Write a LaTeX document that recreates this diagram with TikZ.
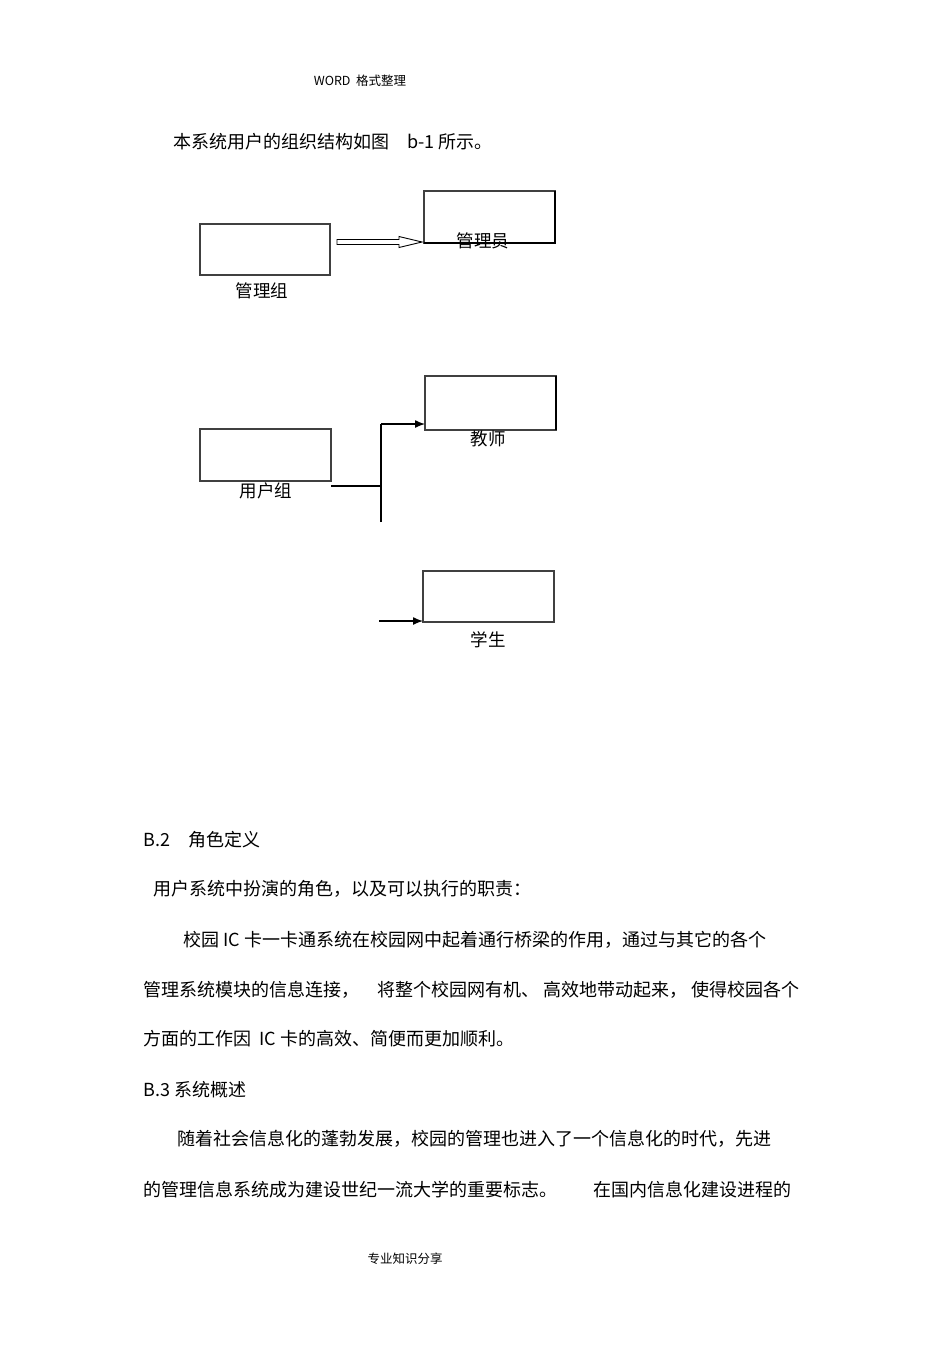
\documentclass[tikz,border=0pt]{standalone}
\usepackage{fontspec}
\setmainfont{Noto Sans CJK SC}
\usetikzlibrary{arrows.meta}
\begin{document}
\begin{tikzpicture}[x=1pt,y=-1pt,
  box/.style={draw=black!75,line width=1.1pt},
  lbl/.style={font=\fontsize{17.5}{19}\selectfont,inner sep=0pt},
  txt/.style={font=\fontsize{18}{20}\selectfont,anchor=west,inner sep=0pt},
  small/.style={font=\fontsize{12.5}{14}\selectfont,inner sep=0pt},
  conn/.style={line width=1.3pt,-{Latex[length=10pt,width=8pt]}}]
\useasboundingbox (0,0) rectangle (950,1345);
\node[small] (hdr) at (360,81) {WORD\ \ 格式整理};
\node[txt] (t0) at (173,142) {本系统用户的组织结构如图\quad b-1\ 所示。};
% boxes
\draw[box] (200,224) rectangle (330,275);
\node[lbl] at (262,291) {管理组};
\draw[box] (424,191) rectangle (555,243);
\draw[line width=1.6pt] (555,191) -- (555,243) -- (424,243);
\node[lbl] at (483,241) {管理员};
\draw[line width=0.9pt] (337,239.5) -- (399,239.5) -- (399,236.5) -- (422,242) -- (399,247.5) -- (399,244.5) -- (337,244.5) -- cycle;
\draw[box] (425,376) rectangle (556,430);
\draw[line width=1.6pt] (556,376) -- (556,430);
\node[lbl] at (488,439) {教师};
\draw[box] (200,429) rectangle (331,481);
\node[lbl] at (266,491) {用户组};
\draw[box] (423,571) rectangle (554,622);
\node[lbl] at (488,640) {学生};
\coordinate (j) at (381,486);
\draw[line width=1.2pt] (331,486) -- (j);
\draw[line width=1.2pt] (381,522) -- (381,424);
\draw[conn] (381,424) -- (425,424);
\draw[conn] (379,621) -- (423,621);
% text
\node[txt] at (143,840) {B.2\quad 角色定义};
\node[txt] at (153,889) {用户系统中扮演的角色，以及可以执行的职责：};
\node[txt] at (183,940) {校园\ IC\ 卡一卡通系统在校园网中起着通行桥梁的作用，通过与其它的各个};
\node[txt] at (143,990) {管理系统模块的信息连接，\quad 将整个校园网有机、\ 高效地带动起来，\ 使得校园各个};
\node[txt] at (143,1039) {方面的工作因\ \ IC\ 卡的高效、简便而更加顺利。};
\node[txt] at (143,1090) {B.3\ 系统概述};
\node[txt] at (177,1139) {随着社会信息化的蓬勃发展，校园的管理也进入了一个信息化的时代，先进};
\node[txt] at (143,1190) {的管理信息系统成为建设世纪一流大学的重要标志。\qquad 在国内信息化建设进程的};
\node[small] at (405,1259) {专业知识分享};
\end{tikzpicture}
\end{document}
